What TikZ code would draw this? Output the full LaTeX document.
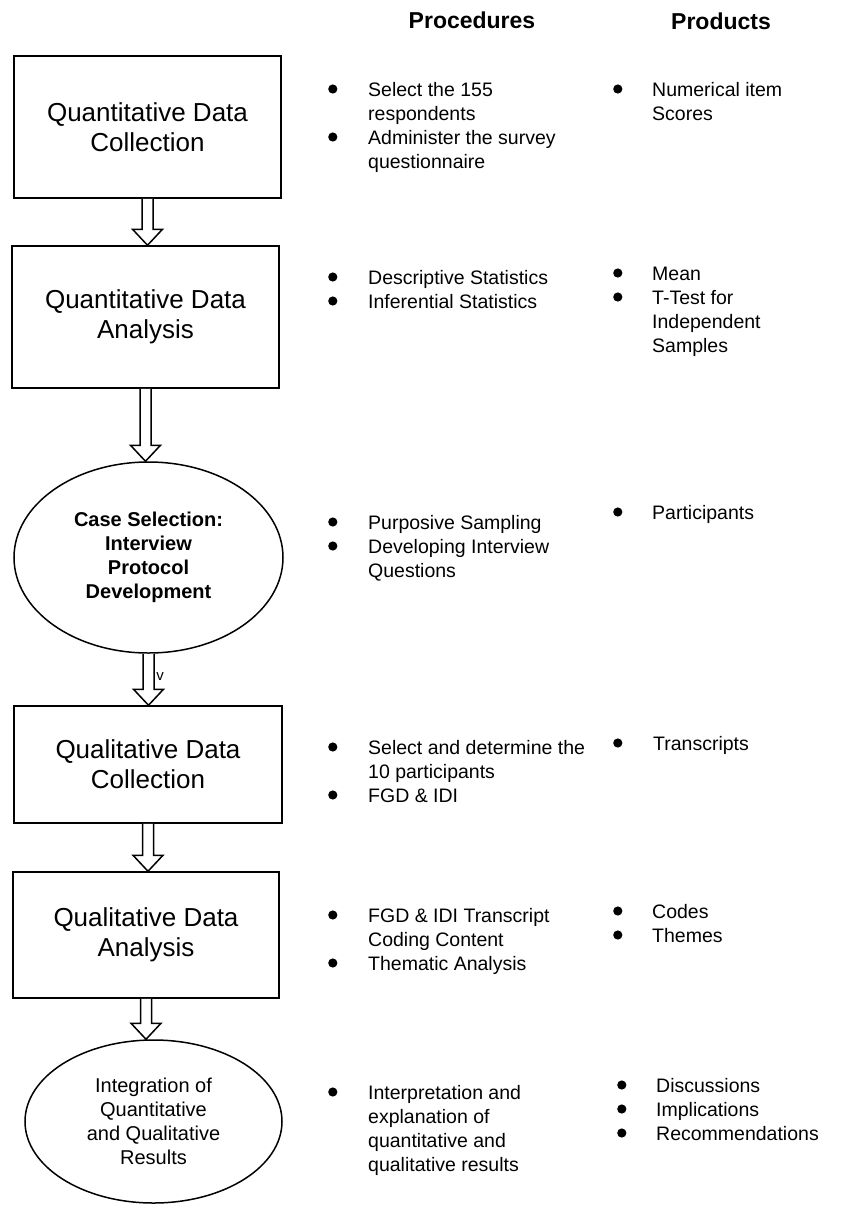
\documentclass[tikz,border=0pt]{standalone}
\usepackage{fontspec}
\setmainfont{Liberation Sans}
\usepackage{tikz}
\usetikzlibrary{shapes.geometric,calc}

\newcommand{\hollowarrow}[2]{%
  \draw[fill=white]
    ($(#1.south)+(-5.5,0)$) -- ($(#2.north -| #1.south)+(-5.5,-16)$) -- ++(-9.5,0)
    -- (#2.north -| #1.south) -- ($(#2.north -| #1.south)+(15,-16)$) -- ++(-9.5,0)
    -- ($(#1.south)+(5.5,0)$);}
\newcommand{\blist}[2]{\begin{tabular}[t]{@{}p{#1}@{}l@{}}#2\end{tabular}}
\newcommand{\bigdot}{\tikz[baseline=-7pt]\fill (0pt,0pt) circle (4.6pt);}

\begin{document}
\begin{tikzpicture}
            [x=1pt,y=-1pt,line width=1.5pt,
             stage/.style={draw,rectangle,minimum width=267pt,align=center,font=\fontsize{26}{30}\selectfont},
             oval/.style={draw,ellipse,inner sep=0pt,align=center,font=\fontsize{20}{24}\selectfont},
             head/.style={font=\bfseries\fontsize{23}{27}\selectfont},
             item/.style={anchor=base west,inner sep=0pt,font=\fontsize{19.5}{24}\selectfont}]
            \useasboundingbox (0,0) rectangle (841,1205);

            \node[head] (prochead) at (472,20) {Procedures};
            \node[head] (prodhead) at (721,21) {Products};

            \node[stage,minimum height=142pt] (qndc) at (147.5,127) {Quantitative Data\\Collection};
            \node[stage,minimum height=142pt] (qnda) at (145.5,317) {Quantitative Data\\Analysis};
            \node[oval,minimum width=269pt,minimum height=191pt,font=\bfseries\fontsize{20}{24}\selectfont] (case) at (148.5,557.5) {Case Selection:\\Interview\\Protocol\\Development};
            \node[stage,minimum width=268pt,minimum height=117pt] (qldc) at (148,764.5) {Qualitative Data\\Collection};
            \node[stage,minimum width=266pt,minimum height=126pt] (qlda) at (146,935) {Qualitative Data\\Analysis};
            \node[oval,minimum width=257pt,minimum height=163pt] (integ) at (153.5,1121.5) {Integration of\\Quantitative\\and Qualitative\\Results};

            \hollowarrow{qndc}{qnda}
            \hollowarrow{qnda}{case}
            \hollowarrow{case}{qldc}
            \hollowarrow{qldc}{qlda}
            \hollowarrow{qlda}{integ}
            \node[inner sep=0pt,font=\fontsize{15}{17}\selectfont] (vmark) at (160,677) {v};

            \node[item] (proc1) at (328,96) {\blist{40pt}{\bigdot & Select the 155\\ & respondents\\ \bigdot & Administer the survey\\ & questionnaire}};
            \node[item] (proc2) at (328,284) {\blist{40pt}{\bigdot & Descriptive Statistics\\ \bigdot & Inferential Statistics}};
            \node[item] (proc3) at (328,529) {\blist{40pt}{\bigdot & Purposive Sampling\\ \bigdot & Developing Interview\\ & Questions}};
            \node[item] (proc4) at (328,754) {\blist{40pt}{\bigdot & Select and determine the\\ & 10 participants\\ \bigdot & FGD \& IDI}};
            \node[item] (proc5) at (328,922) {\blist{40pt}{\bigdot & FGD \& IDI Transcript\\ & Coding Content\\ \bigdot & Thematic Analysis}};
            \node[item] (proc6) at (328,1099) {\blist{40pt}{\bigdot & Interpretation and\\ & explanation of\\ & quantitative and\\ & qualitative results}};

            \node[item] (prod1) at (613,96) {\blist{39pt}{\bigdot & Numerical item\\ & Scores}};
            \node[item] (prod2) at (613,280) {\blist{39pt}{\bigdot & Mean\\ \bigdot & T-Test for\\ & Independent\\ & Samples}};
            \node[item] (prod3) at (613,519) {\blist{39pt}{\bigdot & Participants}};
            \node[item] (prod4) at (613,750) {\blist{40pt}{\bigdot & Transcripts}};
            \node[item] (prod5) at (613,918) {\blist{39pt}{\bigdot & Codes\\ \bigdot & Themes}};
            \node[item] (prod6) at (617,1092) {\blist{39pt}{\bigdot & Discussions\\ \bigdot & Implications\\ \bigdot & Recommendations}};
        \end{tikzpicture}
\end{document}
